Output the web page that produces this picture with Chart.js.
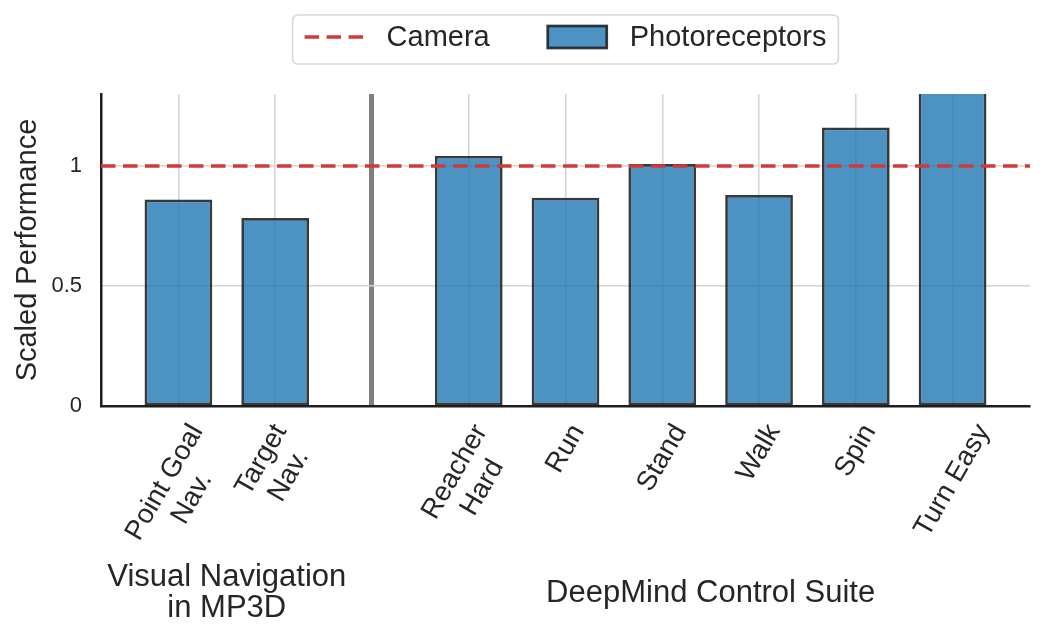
<!DOCTYPE html>
<html>
<head>
<meta charset="utf-8">
<script src="https://cdn.jsdelivr.net/npm/chart.js@4/dist/chart.umd.min.js"></script>
<style>
  html, body { margin: 0; padding: 0; background: #fff; }
  #wrap { width: 1047px; height: 642px; }
</style>
</head>
<body>
<div id="wrap"><canvas id="myChart" width="1047" height="642"></canvas></div>
<script>
// data
const taskLabels = [['Point Goal', 'Nav.'], ['Target', 'Nav.'], ['Reacher', 'Hard'], ['Run'], ['Stand'], ['Walk'], ['Spin'], ['Turn Easy']];
const taskPositions = [0, 1, 3, 4, 5, 6, 7, 8];
const photoreceptors = [0.86, 0.783, 1.042, 0.868, 1.008, 0.879, 1.16, 1.45];
const cameraBaseline = 1;
const separatorPosition = 2;
const groupNames = [['Visual Navigation', 'in MP3D'], ['DeepMind Control Suite']];
const groupSpans = [[0, 1], [3, 8]];
const xMin = -0.8, xMax = 8.8;
const yMin = 0, yMax = 1.3, yStep = 0.5;

const textColor = '#262626';
const fontFamily = '"Liberation Sans", Arial, sans-serif';
Chart.defaults.font.family = fontFamily;
Chart.defaults.color = textColor;

// rotated tick labels, group names and the framed legend
const decor = {
    id: 'decor',
    afterDraw(chart){
        const ctx = chart.ctx;
        const xs = chart.scales.x;
        const area = chart.chartArea;
        ctx.save();
        ctx.fillStyle = textColor;

        // x tick labels, rotated 60deg, bounding box centred under the tick
        const fs = 27.5, lh = fs * 1.15, th = Math.PI / 3;
        ctx.font = fs + 'px ' + fontFamily;
        ctx.textAlign = 'center';
        ctx.textBaseline = 'middle';
        taskLabels.forEach((lines, i)=>{
            const w = Math.max(...lines.map(l => ctx.measureText(l).width));
            const h = lines.length * lh;
            const bh = w * Math.sin(th) + h * Math.cos(th);
            const cx = xs.getPixelForValue(taskPositions[i]);
            const cy = area.bottom + 13 + bh / 2;
            ctx.save();
            ctx.translate(cx, cy);
            ctx.rotate(-th);
            lines.forEach((l, j)=>{
                ctx.fillText(l, 0, (j - (lines.length - 1) / 2) * lh);
            });
            ctx.restore();
        });

        // group names
        ctx.font = '31px ' + fontFamily;
        groupNames.forEach((lines, g)=>{
            const cx = (xs.getPixelForValue(groupSpans[g][0]) + xs.getPixelForValue(groupSpans[g][1])) / 2;
            const cy = area.bottom + 187;
            lines.forEach((l, j)=>{
                ctx.fillText(l, cx, cy + (j - (lines.length - 1) / 2) * 31);
            });
        });

        // legend
        ctx.font = '29px ' + fontFamily;
        const cam = chart.data.datasets[0];
        const pho = chart.data.datasets[1];
        const handle = 59, gap = 23, itemGap = 58, pad = 12;
        const wCam = ctx.measureText(cam.label).width;
        const wPho = ctx.measureText(pho.label).width;
        const total = pad + handle + gap + wCam + itemGap + handle + gap + wPho + pad;
        const left = (area.left + area.right) / 2 - total / 2;
        const top = 15, height = 49, mid = top + 23;

        ctx.beginPath();
        ctx.roundRect(left, top, total, height, 5);
        ctx.fillStyle = '#fff';
        ctx.fill();
        ctx.strokeStyle = '#d6d6d6';
        ctx.lineWidth = 1.5;
        ctx.stroke();

        let x = left + pad;
        ctx.beginPath();
        ctx.setLineDash(cam.borderDash);
        ctx.strokeStyle = cam.borderColor;
        ctx.lineWidth = cam.borderWidth;
        ctx.moveTo(x, mid - 1);
        ctx.lineTo(x + handle, mid - 1);
        ctx.stroke();
        ctx.setLineDash([]);
        x += handle + gap;
        ctx.fillStyle = textColor;
        ctx.textAlign = 'left';
        ctx.fillText(cam.label, x, mid);
        x += wCam + itemGap;

        ctx.fillStyle = pho.backgroundColor;
        ctx.fillRect(x, mid - 12, handle, 22);
        ctx.strokeStyle = pho.borderColor;
        ctx.lineWidth = pho.borderWidth;
        ctx.strokeRect(x, mid - 12, handle, 22);
        x += handle + gap;
        ctx.fillStyle = textColor;
        ctx.fillText(pho.label, x, mid);

        ctx.restore();
    }
};

const ctx = document.getElementById('myChart').getContext('2d');
const myChart = new Chart(ctx, {
    type: 'bar',
    data: {
        datasets: [{
            type: 'line',
            label: 'Camera',
            data: [{x: xMin, y: cameraBaseline}, {x: xMax, y: cameraBaseline}],
            borderColor: '#d03a3a',
            borderWidth: 3.5,
            borderDash: [14.5, 7.5],
            pointRadius: 0,
            order: 0
        }, {
            type: 'bar',
            label: 'Photoreceptors',
            data: taskPositions.map((x, i) => ({x: x, y: photoreceptors[i]})),
            backgroundColor: 'rgba(31, 119, 180, 0.8)',
            borderColor: 'rgba(28, 30, 32, 0.88)',
            borderWidth: 2.7,
            borderSkipped: false,
            barPercentage: 0.7,
            categoryPercentage: 1,
            order: 1
        }]
    },
    options: {
        responsive: false,
        animation: false,
        layout: { padding: { top: 94, right: 17, bottom: 236, left: 0 } },
        plugins: {
            legend: { display: false },
            tooltip: { enabled: false }
        },
        scales: {
            x: {
                type: 'linear',
                min: xMin,
                max: xMax,
                offset: false,
                ticks: { display: false, stepSize: 1, includeBounds: false },
                grid: {
                    offset: false,
                    drawTicks: false,
                    color: c => (c.tick && c.tick.value === separatorPosition) ? '#808080' : '#d4d4d4',
                    lineWidth: c => (c.tick && c.tick.value === separatorPosition) ? 5 : 1.5
                },
                border: { color: '#1e1e1e', width: 2.5 },
                afterFit: s => { s.height = 0; }
            },
            y: {
                min: yMin,
                max: yMax,
                ticks: {
                    stepSize: yStep,
                    includeBounds: false,
                    padding: 19,
                    font: { size: 22 },
                    color: textColor,
                    callback: v => String(v)
                },
                grid: { drawTicks: false, color: '#d4d4d4', lineWidth: 1.5 },
                border: { color: '#1e1e1e', width: 2.5 },
                title: {
                    display: true,
                    text: 'Scaled Performance',
                    font: { size: 29 },
                    color: textColor,
                    padding: { top: 11, bottom: 0 }
                },
                afterFit: s => { s.width = 101; }
            }
        }
    },
    plugins: [decor]
});
</script>
</body>
</html>
